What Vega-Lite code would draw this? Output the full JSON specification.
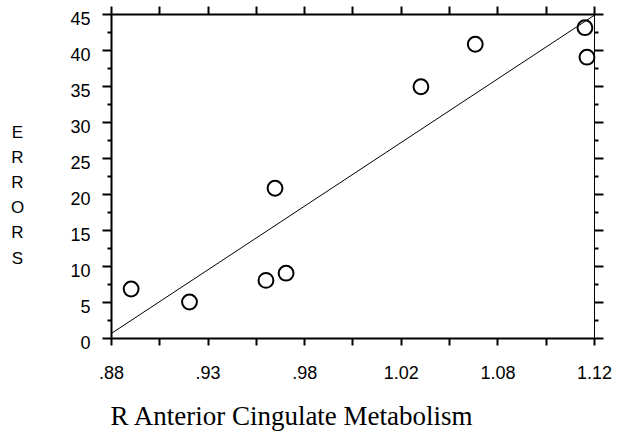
{
  "$schema": "https://vega.github.io/schema/vega-lite/v6.json",
  "width": 483,
  "height": 324,
  "autosize": {"type": "none"},
  "padding": {"left": 111, "top": 14, "right": 27, "bottom": 95},
  "background": "white",
  "config": {
    "view": {"stroke": null},
    "axis": {"grid": false, "domainColor": "black", "tickColor": "black", "labelColor": "black", "titleColor": "black", "labelFont": "Liberation Sans", "labelFontSize": 18, "labelFlush": false, "labelOverlap": false}
  },
  "datasets": {
    "points": [
      {"metabolism": 0.890, "errors": 6.8},
      {"metabolism": 0.919, "errors": 5.0},
      {"metabolism": 0.957, "errors": 8.0},
      {"metabolism": 0.967, "errors": 9.0},
      {"metabolism": 0.9615, "errors": 20.8},
      {"metabolism": 1.034, "errors": 34.9},
      {"metabolism": 1.061, "errors": 40.8},
      {"metabolism": 1.1155, "errors": 43.1},
      {"metabolism": 1.1165, "errors": 39.0}
    ],
    "fit": [
      {"metabolism": 0.88, "errors": 0.6},
      {"metabolism": 1.12, "errors": 44.8}
    ]
  },
  "layer": [
    {
      "data": {"name": "points"},
      "mark": {"type": "point", "shape": "circle", "filled": false, "color": "black", "strokeWidth": 2, "size": 220, "opacity": 1},
      "encoding": {
        "x": {
          "field": "metabolism", "type": "quantitative",
          "scale": {"domain": [0.88, 1.12], "nice": false, "zero": false},
          "axis": {
            "orient": "bottom",
            "values": [0.88, 0.904, 0.928, 0.952, 0.976, 1.0, 1.024, 1.048, 1.072, 1.096, 1.12],
            "labelExpr": "['.88','','.93','','.98','','1.02','','1.08','','1.12'][round((datum.value-0.88)/0.024)]",
            "labelFontSize": 18,
            "tickSize": 7, "tickWidth": 2, "domainWidth": 2,
            "labelPadding": 19,
            "title": "R Anterior Cingulate Metabolism",
            "titleFont": "Liberation Serif", "titleFontSize": 27, "titleFontWeight": "normal",
            "titleX": 180, "titleY": 86, "titleAlign": "center", "titleBaseline": "alphabetic"
          }
        },
        "y": {
          "field": "errors", "type": "quantitative",
          "scale": {"domain": [0, 45], "nice": false, "zero": false},
          "axis": {
            "orient": "left",
            "values": [0, 2.5, 5, 7.5, 10, 12.5, 15, 17.5, 20, 22.5, 25, 27.5, 30, 32.5, 35, 37.5, 40, 42.5, 45],
            "labelExpr": "datum.value % 5 === 0 ? datum.label : ''",
            "labelFontSize": 18,
            "tickSize": {"condition": {"test": "datum.value % 5 === 0", "value": 9}, "value": 4},
            "tickWidth": 2, "domainWidth": 2,
            "labelPadding": 12, "labelOffset": 5,
            "title": ["E", "R", "R", "O", "R", "S"],
            "titleFont": "Liberation Sans", "titleFontSize": 17, "titleFontWeight": "normal",
            "titleAngle": 0, "titleLineHeight": 25.2,
            "titleX": -94, "titleY": 118, "titleAlign": "center", "titleBaseline": "middle"
          }
        }
      }
    },
    {
      "data": {"name": "fit"},
      "mark": {"type": "line", "color": "black", "strokeWidth": 1},
      "encoding": {
        "x": {
          "field": "metabolism", "type": "quantitative",
          "scale": {"domain": [0.88, 1.12], "nice": false, "zero": false},
          "axis": {
            "orient": "top",
            "values": [0.88, 0.904, 0.928, 0.952, 0.976, 1.0, 1.024, 1.048, 1.072, 1.096, 1.12],
            "labels": false, "title": null,
            "tickSize": 8, "tickWidth": 2, "domainWidth": 2
          }
        },
        "y": {
          "field": "errors", "type": "quantitative",
          "scale": {"domain": [0, 45], "nice": false, "zero": false},
          "axis": {
            "orient": "right",
            "values": [0, 2.5, 5, 7.5, 10, 12.5, 15, 17.5, 20, 22.5, 25, 27.5, 30, 32.5, 35, 37.5, 40, 42.5, 45],
            "labels": false, "title": null,
            "tickSize": {"condition": {"test": "datum.value % 5 === 0", "value": 9}, "value": 4},
            "tickWidth": 2, "domainWidth": 1
          }
        }
      }
    }
  ],
  "resolve": {"axis": {"x": "independent", "y": "independent"}}
}
